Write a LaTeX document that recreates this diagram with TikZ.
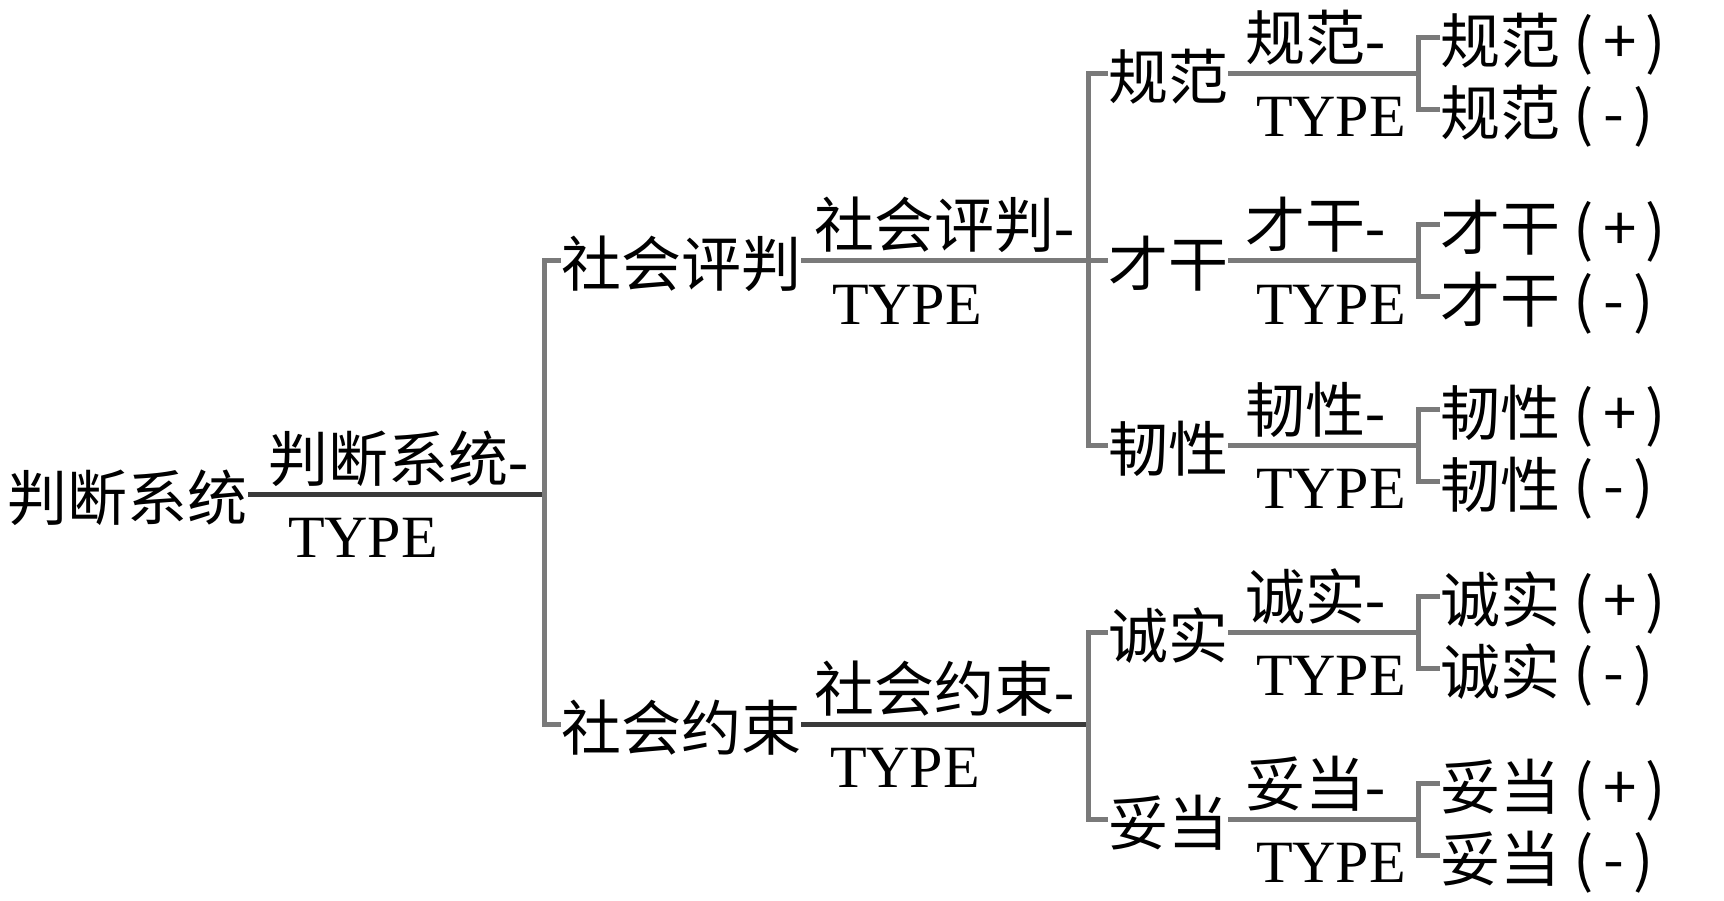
\documentclass[tikz,border=0pt]{standalone}
\usepackage{fontspec}
\setmainfont{Liberation Serif}
\newfontfamily\cjk{Noto Sans CJK SC}
\definecolor{lngray}{HTML}{7A7A7A}
\definecolor{lndark}{HTML}{3A3A3A}
\tikzset{
  ln/.style={draw=lngray, line width=5pt},
  lndk/.style={draw=lndark, line width=5pt},
  cjkname/.style={inner sep=0pt, outer sep=0pt, font=\fontsize{60}{60}\selectfont\cjk, text height=52pt, text depth=0pt},
  lab/.style={inner sep=0pt, anchor=base, font=\fontsize{60}{60}\selectfont},
  leaf/.style={cjkname, anchor=west}
}
\newcommand{\ptag}[2]{{\cjk #1}\hspace{14pt}(\hspace{9pt}#2\hspace{9pt})}
\begin{document}
\begin{tikzpicture}[x=1pt,y=-1pt]
\useasboundingbox (0,0) rectangle (1724,901);
% root
\node[cjkname, anchor=east] (root) at (248,494) {判断系统};
\coordinate (j0) at (544,494);
\node[lab] (rootl) at (398,481) {{\cjk 判断系统}-};
\node[lab] (roott) at (363,557) {TYPE};
% level 1
\node[cjkname, anchor=west] (sp) at (561,261) {社会评判};
\node[cjkname, anchor=west] (sy) at (561,724) {社会约束};
\coordinate (j1) at (1088,261);
\coordinate (j2) at (1088,724);
\node[lab] (spl) at (944,248) {{\cjk 社会评判}-};
\node[lab] (spt) at (907,324) {TYPE};
\node[lab] (syl) at (944,711) {{\cjk 社会约束}-};
\node[lab] (syt) at (905,787) {TYPE};
% level 2
\node[cjkname, anchor=west] (gf) at (1108,74) {规范};
\node[cjkname, anchor=west] (cg) at (1108,261) {才干};
\node[cjkname, anchor=west] (rx) at (1108,445) {韧性};
\node[cjkname, anchor=west] (cs) at (1108,632) {诚实};
\node[cjkname, anchor=west] (td) at (1108,819) {妥当};
% level 2 labels and junctions
\foreach \n/\t/\y in {gf/规范/74, cg/才干/261, rx/韧性/445, cs/诚实/632, td/妥当/819}{
  \coordinate (k\n) at (1418,\y);
  \node[lab] (\n l) at (1315,\y-13) {{\cjk \t}-};
  \node[lab] (\n t) at (1331,\y+63) {TYPE};
  \node[leaf] (\n p) at (1440,\y-36) {\ptag{\t}{+}};
  \node[leaf] (\n m) at (1440,\y+36) {\ptag{\t}{-}};
}
% connectors
\draw[lndk] (root.east) -- (j0);
\draw[ln] (sp.west) -| (j0) |- (sy.west);
\draw[ln] (sp.east) -- (j1);
\draw[lndk] (sy.east) -- (j2);
\draw[ln] (gf.west) -| (j1) |- (rx.west);
\draw[ln] (cg.west) -- (j1);
\draw[ln] (cs.west) -| (j2) |- (td.west);
\foreach \n in {gf,cg,rx,cs,td}{
  \draw[ln] (\n.east) -- (k\n);
  \draw[ln] (\n p.west) -| (k\n) |- (\n m.west);
}
\end{tikzpicture}
\end{document}
